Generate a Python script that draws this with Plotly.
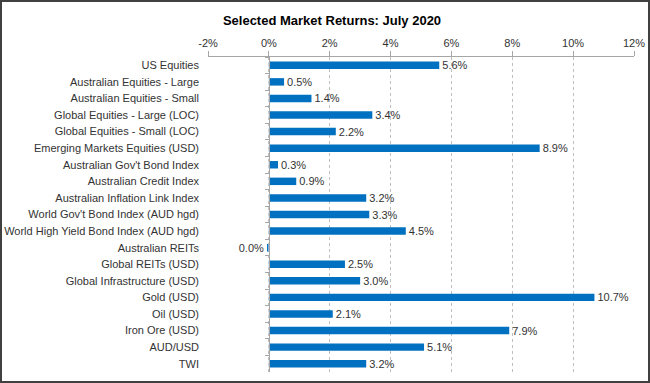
import plotly.graph_objects as go

categories = [
    "US Equities", "Australian Equities - Large", "Australian Equities - Small",
    "Global Equities - Large (LOC)", "Global Equities - Small (LOC)",
    "Emerging Markets Equities (USD)", "Australian Gov't Bond Index",
    "Australian Credit Index", "Australian Inflation Link Index",
    "World Gov't Bond Index (AUD hgd)", "World High Yield Bond Index (AUD hgd)",
    "Australian REITs", "Global REITs (USD)", "Global Infrastructure (USD)",
    "Gold (USD)", "Oil (USD)", "Iron Ore (USD)", "AUD/USD", "TWI",
]
returns = [5.6, 0.5, 1.4, 3.4, 2.2, 8.9, 0.3, 0.9, 3.2, 3.3, 4.5, -0.03,
           2.5, 3.0, 10.7, 2.1, 7.9, 5.1, 3.2]
tick_vals = [-2, 0, 2, 4, 6, 8, 10, 12]
tick_text = ["-2%", "0%", "2%", "4%", "6%", "8%", "10%", "12%"]

labels = [f"{(round(v, 1) + 0.0):.1f}%" for v in returns]

W, H = 650, 383
L, R, T, B = 208, 16, 57, 11
pw, ph = W - L - R, H - T - B
font = "Liberation Sans, Arial, sans-serif"
x_min, x_max = -2, 12

fig = go.Figure()
fig.add_trace(go.Bar(
    x=returns, y=categories, orientation="h",
    marker=dict(color="#0070C0", line=dict(width=0)),
    text=labels, textposition="outside", cliponaxis=False,
    constraintext="none",
    textfont=dict(family=font, size=11, color="#333333"),
    hoverinfo="skip", showlegend=False,
))
# invisible trace to drive the axis drawn at zero
fig.add_trace(go.Bar(
    x=[0] * len(categories), y=categories, orientation="h", yaxis="y2",
    marker=dict(color="rgba(0,0,0,0)"), hoverinfo="skip", showlegend=False,
))

fig.update_layout(
    width=W, height=H,
    margin=dict(l=L, r=R, t=T, b=B, autoexpand=False),
    paper_bgcolor="white", plot_bgcolor="white",
    bargap=0.55,
    title=dict(text="<b>Selected Market Returns: July 2020</b>",
               font=dict(family=font, size=13, color="#000000"),
               x=332 / W, xanchor="center", xref="container",
               y=1 - 20 / H, yanchor="middle", yref="container",
               automargin=False),
    xaxis=dict(
        range=[x_min, x_max], side="top",
        tickvals=tick_vals, ticktext=tick_text,
        tickfont=dict(family=font, size=11, color="#333333"),
        showline=True, linecolor="#a6a6a6", linewidth=1,
        ticks="outside", ticklen=5, tickcolor="#a6a6a6",
        showgrid=True, gridcolor="#bfbfbf", griddash="dot", gridwidth=1,
        zeroline=False, mirror=False, fixedrange=True, automargin=False,
    ),
    yaxis=dict(
        categoryorder="array", categoryarray=categories,
        autorange="reversed",
        tickfont=dict(family=font, size=11, color="#333333"),
        showline=False, ticks="", showgrid=False, zeroline=False,
        ticklabelstandoff=8, automargin=False,
    ),
    yaxis2=dict(
        overlaying="y", anchor="free", position=(0 - x_min) / (x_max - x_min),
        side="left", matches="y",
        showline=True, linecolor="#a6a6a6", linewidth=1,
        ticks="outside", ticklen=4, tickcolor="#a6a6a6", tickson="boundaries",
        showticklabels=False, showgrid=False, zeroline=False, automargin=False,
    ),
    shapes=[dict(
        type="rect", xref="paper", yref="paper",
        x0=-(L - 1) / pw, x1=1 + (R - 1) / pw,
        y0=-(B - 1) / ph, y1=1 + (T - 1) / ph,
        line=dict(color="#404040", width=2), fillcolor="rgba(0,0,0,0)",
        layer="above",
    )],
)

fig.write_html(
    "out.html",
    config={"displayModeBar": False},
    post_script="document.body.style.margin='0';document.body.style.overflow='hidden';",
)
